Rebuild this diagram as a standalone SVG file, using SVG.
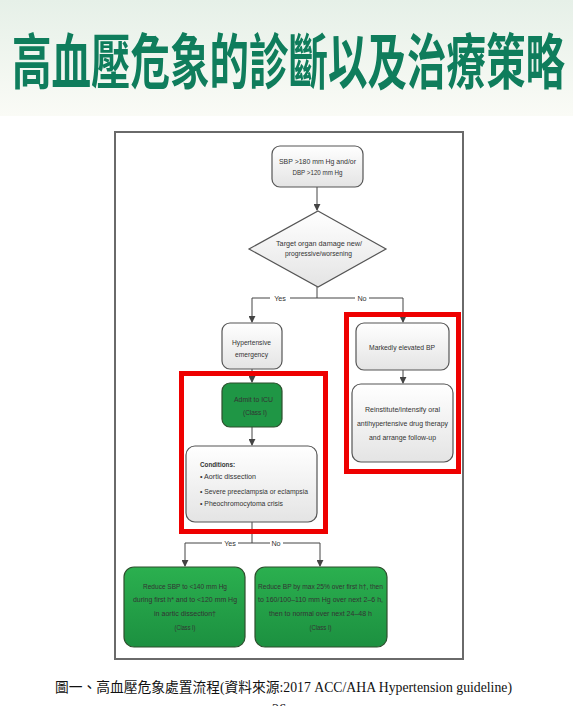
<svg xmlns="http://www.w3.org/2000/svg" width="573" height="706" viewBox="0 0 573 706">
<defs>
<linearGradient id="bg" x1="0" y1="0" x2="0" y2="1">
<stop offset="0" stop-color="#e6f0e8"/>
<stop offset="1" stop-color="#fafbf6"/>
</linearGradient>
<linearGradient id="gray" x1="0" y1="0" x2="0" y2="1">
<stop offset="0" stop-color="#ffffff"/>
<stop offset="1" stop-color="#e4e4e4"/>
</linearGradient>
<linearGradient id="green" x1="0" y1="0" x2="0" y2="1">
<stop offset="0" stop-color="#2bb04f"/>
<stop offset="1" stop-color="#1c9040"/>
</linearGradient>
<marker id="arr" viewBox="0 0 8 8" refX="7" refY="4" markerWidth="7" markerHeight="7" orient="auto" markerUnits="userSpaceOnUse">
<path d="M0,0 L8,4 L0,8 z" fill="#444"/>
</marker>
</defs>
<style>
.t{font-family:"Liberation Sans","Open Sans",sans-serif;font-size:7.2px;fill:#333;text-anchor:middle}
.tl{font-family:"Liberation Sans","Open Sans",sans-serif;font-size:7.2px;fill:#333}
.g{fill:url(#gray);stroke:#555;stroke-width:1.2}
.gr{fill:url(#green);stroke:#2d4f2d;stroke-width:1.2}
.ln{fill:none;stroke:#444;stroke-width:1}
.red{fill:none;stroke:#ee0000;stroke-width:5}
</style>
<rect x="0" y="0" width="573" height="706" fill="#ffffff"/>
<rect x="0" y="0" width="573" height="116" fill="url(#bg)"/>
<text x="12" y="84" font-family="'Noto Sans CJK TC','Noto Sans CJK SC',sans-serif" font-weight="bold" font-size="60" fill="#0f7d5c" textLength="553" lengthAdjust="spacingAndGlyphs">高血壓危象的診斷以及治療策略</text>

<rect x="115" y="132" width="348" height="527" fill="#ffffff" stroke="#6a6a6a" stroke-width="2"/>

<g id="connectors">
<line class="ln" x1="317" y1="187" x2="317" y2="210" marker-end="url(#arr)"/>
<polyline class="ln" points="317,287 317,298 290,298"/>
<polyline class="ln" points="270,298 252,298 252,322" marker-end="url(#arr)"/>
<polyline class="ln" points="317,298 355,298"/>
<polyline class="ln" points="369,298 403,298 403,322" marker-end="url(#arr)"/>
<line class="ln" x1="252" y1="369" x2="252" y2="382" marker-end="url(#arr)"/>
<line class="ln" x1="252" y1="427" x2="252" y2="445" marker-end="url(#arr)"/>
<line class="ln" x1="403" y1="370" x2="403" y2="383" marker-end="url(#arr)"/>
<polyline class="ln" points="252,522 252,543 238,543"/>
<polyline class="ln" points="222,543 185,543 185,566" marker-end="url(#arr)"/>
<polyline class="ln" points="252,543 270,543"/>
<polyline class="ln" points="283,543 320,543 320,566" marker-end="url(#arr)"/>
<text class="t" x="280" y="300.5">Yes</text>
<text class="t" x="362" y="300.5">No</text>
<text class="t" x="230" y="545.5">Yes</text>
<text class="t" x="276" y="545.5">No</text>
</g>

<g id="start">
<rect class="g" x="272" y="146" width="91" height="41" rx="8"/>
<text class="t" x="317.5" y="164" textLength="77" lengthAdjust="spacingAndGlyphs">SBP &gt;180 mm Hg and/or</text>
<text class="t" x="317.5" y="175" textLength="50" lengthAdjust="spacingAndGlyphs">DBP &gt;120 mm Hg</text>
</g>

<g id="decision">
<polygon class="g" points="318,211 386,249 318,287 249,249"/>
<text class="t" x="319" y="246" textLength="86" lengthAdjust="spacingAndGlyphs">Target organ damage new/</text>
<text class="t" x="318.5" y="256" textLength="67" lengthAdjust="spacingAndGlyphs">progressive/worsening</text>
</g>

<g id="emergency">
<rect class="g" x="222" y="323" width="60" height="46" rx="8"/>
<text class="t" x="251.5" y="345" textLength="39" lengthAdjust="spacingAndGlyphs">Hypertensive</text>
<text class="t" x="251.5" y="357" textLength="33" lengthAdjust="spacingAndGlyphs">emergency</text>
</g>

<g id="icu">
<rect class="gr" x="222" y="383" width="60" height="44" rx="8" style="fill:#1f9645"/>
<text class="t" x="253.5" y="402" textLength="39" lengthAdjust="spacingAndGlyphs">Admit to ICU</text>
<text class="t" x="255" y="415" textLength="24" lengthAdjust="spacingAndGlyphs">(Class I)</text>
</g>

<g id="conditions">
<rect class="g" x="186" y="446" width="131" height="76" rx="9"/>
<text class="tl" x="200" y="467" font-weight="bold" textLength="35" lengthAdjust="spacingAndGlyphs">Conditions:</text>
<text class="tl" x="200" y="479" textLength="56" lengthAdjust="spacingAndGlyphs">• Aortic dissection</text>
<text class="tl" x="200" y="494" textLength="108" lengthAdjust="spacingAndGlyphs">• Severe preeclampsia or eclampsia</text>
<text class="tl" x="200" y="506" textLength="83" lengthAdjust="spacingAndGlyphs">• Pheochromocytoma crisis</text>
</g>

<g id="elevated">
<rect class="g" x="356" y="323" width="93" height="47" rx="8"/>
<text class="t" x="402" y="350" textLength="66" lengthAdjust="spacingAndGlyphs">Markedly elevated BP</text>
</g>

<g id="reinstitute">
<rect class="g" x="352" y="384" width="101" height="78" rx="9"/>
<text class="t" x="402.5" y="412" textLength="75" lengthAdjust="spacingAndGlyphs">Reinstitute/intensify oral</text>
<text class="t" x="402.5" y="426" textLength="91" lengthAdjust="spacingAndGlyphs">antihypertensive drug therapy</text>
<text class="t" x="402.5" y="440" textLength="67" lengthAdjust="spacingAndGlyphs">and arrange follow-up</text>
</g>

<g id="reduce-yes">
<rect class="gr" x="124" y="567" width="121" height="80" rx="10"/>
<text class="t" x="185" y="589" textLength="84" lengthAdjust="spacingAndGlyphs">Reduce SBP to &lt;140 mm Hg</text>
<text class="t" x="185" y="602" textLength="104" lengthAdjust="spacingAndGlyphs">during first h* and to &lt;120 mm Hg</text>
<text class="t" x="185" y="616" textLength="62" lengthAdjust="spacingAndGlyphs">in aortic dissection†</text>
<text class="t" x="185" y="630" textLength="21" lengthAdjust="spacingAndGlyphs">(Class I)</text>
</g>

<g id="reduce-no">
<rect class="gr" x="255" y="567" width="132" height="80" rx="10"/>
<text class="t" x="320.5" y="589" textLength="125" lengthAdjust="spacingAndGlyphs">Reduce BP by max 25% over first h†, then</text>
<text class="t" x="320.5" y="602" textLength="125" lengthAdjust="spacingAndGlyphs">to 160/100–110 mm Hg over next 2–6 h,</text>
<text class="t" x="320.5" y="616" textLength="103" lengthAdjust="spacingAndGlyphs">then to normal over next 24–48 h</text>
<text class="t" x="320.5" y="630" textLength="22" lengthAdjust="spacingAndGlyphs">(Class I)</text>
</g>

<rect class="red" x="181.5" y="373.5" width="144" height="158"/>
<rect class="red" x="346.5" y="314.5" width="112" height="157"/>

<text x="55" y="692" font-family="'Liberation Serif','Noto Sans CJK TC',serif" font-size="14" fill="#111" textLength="457" lengthAdjust="spacingAndGlyphs">圖一、高血壓危象處置流程(資料來源:2017 ACC/AHA Hypertension guideline)</text>
<text x="279" y="714" font-family="'Liberation Serif',serif" font-size="14" fill="#111" text-anchor="middle">26</text>
</svg>
